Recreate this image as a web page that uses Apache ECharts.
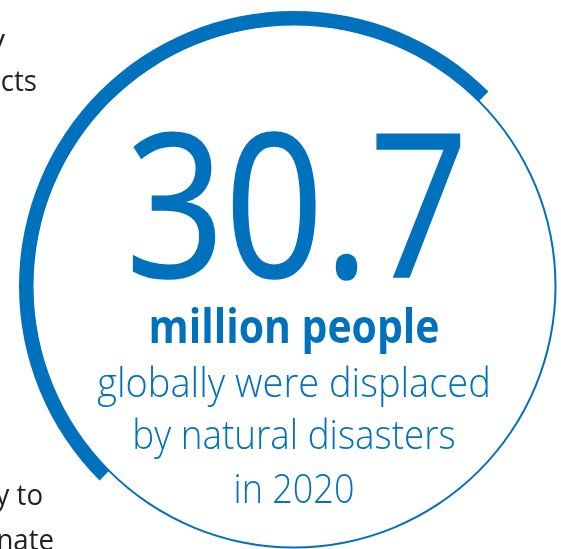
<!DOCTYPE html>
<html>
<head>
<meta charset="utf-8">
<script src="https://cdn.jsdelivr.net/npm/echarts@6/dist/echarts.min.js"></script>
<style>
  html, body { margin: 0; padding: 0; background: #fff; }
  #chart { width: 561px; height: 549px; }
</style>
</head>
<body>
<div id="chart"></div>
<script>
  // share of the ring drawn thick vs thin
  var ringNames = ['highlight', 'rest']
  var ringValues = [50, 50]
  var bigNumber = '30.7'
  var lines = ['million people', 'globally were displaced', 'by natural disasters', 'in 2020']
  var sideTexts = ['y', 'cts', 'y to', 'nate']

  var blue = '#0071bc'
  var cx = 294
  var cy = 286

  var chart = echarts.init(document.getElementById('chart'))

  var option = {
    animation: false,
    series: [
      {
        // thin full circle
        type: 'pie',
        silent: true,
        center: [cx, cy],
        radius: [260.5, 262.5],
        label: { show: false },
        labelLine: { show: false },
        itemStyle: { color: blue },
        data: [{ name: 'circle', value: ringValues[0] + ringValues[1] }]
      },
      {
        // thick half arc
        type: 'pie',
        silent: true,
        center: [cx, cy],
        radius: [261, 275],
        startAngle: 225,
        label: { show: false },
        labelLine: { show: false },
        data: [
          { name: ringNames[0], value: ringValues[0], itemStyle: { color: blue } },
          { name: ringNames[1], value: ringValues[1], itemStyle: { color: 'rgba(0,0,0,0)' } }
        ]
      }
    ],
    graphic: [
      {
        // a thin outline makes the regular weight a bit heavier
        type: 'text', x: 297, y: 220, scaleX: 0.87,
        style: { text: bigNumber, fill: blue, stroke: blue, lineWidth: 1.5, font: '400 199px "Open Sans"', align: 'center', verticalAlign: 'middle' }
      },
      {
        type: 'text', x: 294, y: 330, scaleX: 0.89,
        style: { text: lines[0], fill: blue, font: '700 46px "Open Sans"', align: 'center', verticalAlign: 'middle' }
      },
      {
        type: 'text', x: 294, y: 386, scaleX: 0.95,
        style: { text: lines[1], fill: blue, font: '300 40px "Open Sans"', align: 'center', verticalAlign: 'middle' }
      },
      {
        type: 'text', x: 294, y: 438, scaleX: 0.92,
        style: { text: lines[2], fill: blue, font: '300 40px "Open Sans"', align: 'center', verticalAlign: 'middle' }
      },
      {
        type: 'text', x: 294, y: 492, scaleX: 0.9,
        style: { text: lines[3], fill: blue, font: '300 40px "Open Sans"', align: 'center', verticalAlign: 'middle' }
      },
      {
        type: 'text', x: 5, y: 41,
        style: { text: sideTexts[0], fill: '#231f20', font: '400 30px "Open Sans"', align: 'right', verticalAlign: 'middle' }
      },
      {
        type: 'text', x: 37, y: 82, scaleX: 0.92,
        style: { text: sideTexts[1], fill: '#231f20', font: '400 30px "Open Sans"', align: 'right', verticalAlign: 'middle' }
      },
      {
        type: 'text', x: 43, y: 496, scaleX: 0.92,
        style: { text: sideTexts[2], fill: '#231f20', font: '400 30px "Open Sans"', align: 'right', verticalAlign: 'middle' }
      },
      {
        type: 'text', x: 54, y: 541, scaleX: 0.92,
        style: { text: sideTexts[3], fill: '#231f20', font: '400 30px "Open Sans"', align: 'right', verticalAlign: 'middle' }
      }
    ]
  }

  chart.setOption(option)
</script>
</body>
</html>
